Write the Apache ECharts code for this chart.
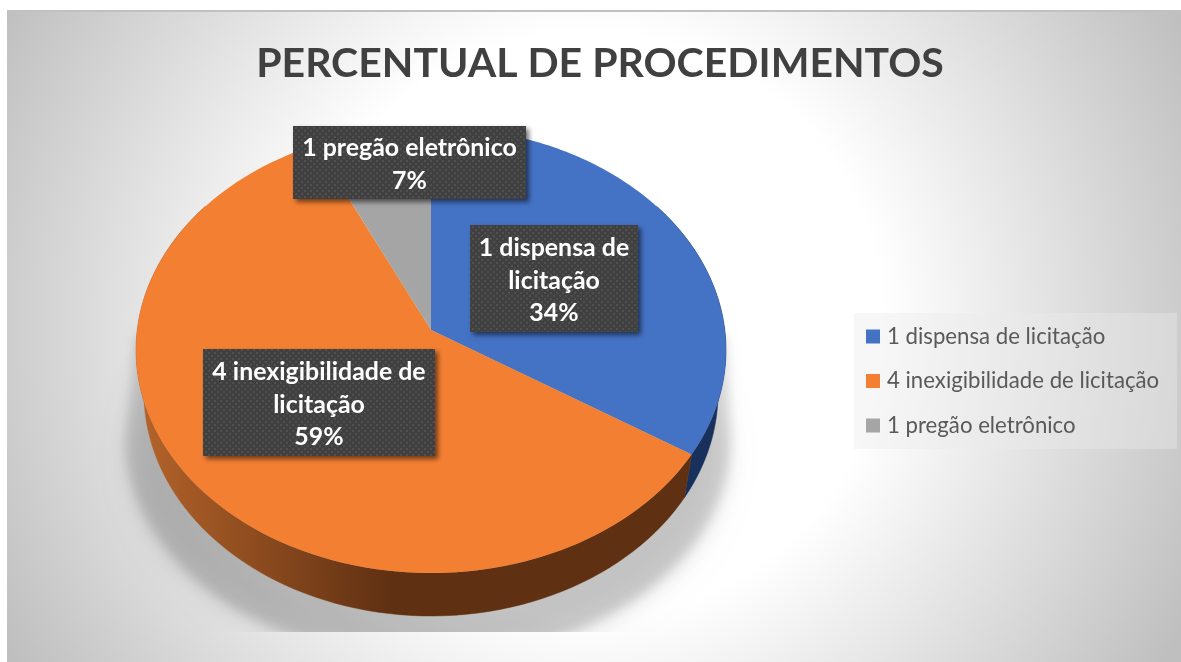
<!DOCTYPE html>
<html><head><meta charset="utf-8">
<style>html,body{margin:0;padding:0;background:#fff}#c{width:1181px;height:662px}</style>
<script src="https://cdn.jsdelivr.net/npm/echarts@6/dist/echarts.min.js"></script></head>
<body><div id="c"></div>
<script>
const titleText = 'PERCENTUAL DE PROCEDIMENTOS';
const sliceNames = ['1 dispensa de licitação', '4 inexigibilidade de licitação', '1 pregão eletrônico'];
const slicePercents = [34, 59, 7];
const labelFirstLines = ['1 dispensa de\nlicitação', '4 inexigibilidade de\nlicitação', '1 pregão eletrônico'];

const colors = ['#4472c4', '#f37f32', '#a5a5a5'];
const sideColors = ['#17305c', {type:'linear',global:true,x:140,y:0,x2:392,y2:0,colorStops:[{offset:0,color:'#b4632a'},{offset:1,color:'#5f3012'}]}, '#5f5f5f'];
const labelBoxes = [[470,225,168,107],[203,349,232,107],[293,126,233,73]];

// perspective disc geometry
const AX = 431, AY = 330, PR = 293.8, PS = 221.2, PK = 0.0897;
const DEPTH = 43, SHRINK = 287 / 295;
function rim(pct) {
  const t = pct / 100 * Math.PI * 2, X = Math.sin(t), Y = -Math.cos(t), w = 1 - PK * Y;
  return [AX + PR * X / w, AY + PS * Y / w];
}
function lower(p) { return [AX + (p[0] - AX) * SHRINK, p[1] + DEPTH]; }
function starts(i) { let s = 0; for (let k = 0; k < i; k++) s += slicePercents[k]; return s; }

const pageGradient = {type:'radial',global:true,x:590,y:325,r:665,colorStops:[
  {offset:0,color:'#ffffff'},{offset:0.44,color:'#ffffff'},{offset:1,color:'#bfbfbf'}]};

function dotPattern() {
  const c = document.createElement('canvas'); c.width = 6; c.height = 6;
  const g = c.getContext('2d');
  g.fillStyle = '#404040'; g.fillRect(0,0,6,6);
  g.fillStyle = '#505050'; g.fillRect(1,1,2,2); g.fillRect(4,4,2,2);
  return {image:c, repeat:'repeat'};
}
const pattern = dotPattern();

// only the blurred shadow of these shapes lands on the page: the shapes themselves sit off to the left
const OFF = 3000;
function castShadow(pts, blur, alpha) {
  return {type:'polygon',shape:{points:pts.map(p=>[p[0]-OFF,p[1]])},
    style:{fill:'#000',shadowBlur:blur,shadowOffsetX:OFF,shadowColor:'rgba(0,0,0,'+alpha+')'}};
}
function backdrop() {
  const wide = [[136,335]], low = [];
  for (let a = 180; a >= 0; a -= 3) {
    const r = a * Math.PI / 180;
    wide.push([428 + 303 * Math.cos(r), 440 + 219 * Math.sin(r)]);
  }
  wide.push([726,335]);
  for (let a = 0; a < 360; a += 3) {
    const r = a * Math.PI / 180;
    low.push([428 + 296 * Math.cos(r), 455 + 204 * Math.sin(r)]);
  }
  return {type:'group',children:[
    {type:'rect',shape:{x:7,y:10,width:1174,height:652},style:{fill:pageGradient}},
    {type:'rect',shape:{x:7,y:10,width:1174,height:2},style:{fill:'#c0c0c0'}},
    castShadow(wide,11,0.14),
    castShadow(low,28,0.11),
    {type:'rect',shape:{x:7,y:632,width:1174,height:30},style:{fill:pageGradient}}
  ]};
}
function sideItem(params, api) {
  const i = params.dataIndex, s = starts(i), e = s + api.value(0);
  const a = Math.max(s, 15), b = Math.min(e, 85);
  if (b <= a) return {type:'group',children:[]};
  const top = [], bottom = [];
  for (let p = a; p <= b + 1e-6; p += (b - a) / 90) { const q = rim(p); top.push(q); bottom.unshift(lower(q)); }
  return {type:'polygon',shape:{points:top.concat(bottom)},style:{fill:sideColors[i],stroke:sideColors[i],lineWidth:0.5}};
}
function topItem(i) {
  return function (params, api) {
    const s = starts(i), e = s + api.value(0), pts = [[AX, AY]];
    for (let p = s; p <= e + 1e-6; p += (e - s) / 120) pts.push(rim(p));
    return {type:'polygon',shape:{points:pts},style:{fill:colors[i]}};
  };
}
function labelItem(params, api) {
  const i = params.dataIndex, b = labelBoxes[i];
  return {type:'group',children:[
    {type:'rect',shape:{x:b[0],y:b[1],width:b[2],height:b[3]},style:{fill:pattern,shadowBlur:5,shadowOffsetX:3,shadowOffsetY:3,shadowColor:'rgba(0,0,0,0.55)'}},
    {type:'text',style:{x:b[0]+b[2]/2,y:b[1]+b[3]/2+2,text:labelFirstLines[i]+'\n'+api.value(0)+'%',
      fill:'#fff',font:'bold 24.9px Lato',align:'center',verticalAlign:'middle',lineHeight:32.5}}
  ]};
}

const series = [
  {type:'custom',name:'_backdrop',coordinateSystem:'none',z:1,silent:true,data:[[0]],renderItem:backdrop},
  {type:'custom',name:'_sides',coordinateSystem:'none',z:2,silent:true,data:slicePercents.map(v=>[v]),renderItem:sideItem}
];
sliceNames.forEach((n,i)=>series.push({type:'custom',name:n,coordinateSystem:'none',z:3,silent:true,
  itemStyle:{color:colors[i]},data:[[slicePercents[i]]],renderItem:topItem(i)}));
series.push({type:'custom',name:'_labels',coordinateSystem:'none',z:4,silent:true,data:slicePercents.map(v=>[v]),renderItem:labelItem});

const chart = echarts.init(document.getElementById('c'));
chart.setOption({
  animation:false,
  backgroundColor:'#ffffff',
  title:{text:titleText,left:595,top:38,textAlign:'center',textStyle:{fontFamily:'Lato',fontWeight:'bold',fontSize:41,color:'#404040'}},
  legend:{data:sliceNames,orient:'vertical',left:854,top:313,padding:[12.5,18,12.5,12],itemWidth:14,itemHeight:14,itemGap:22.5,
    backgroundColor:'rgba(235,235,235,0.4)',icon:'rect',selectedMode:false,
    textStyle:{fontFamily:'Lato',fontSize:22.2,color:'#595959',padding:[0,0,0,2]}},
  series
});
</script></body></html>
